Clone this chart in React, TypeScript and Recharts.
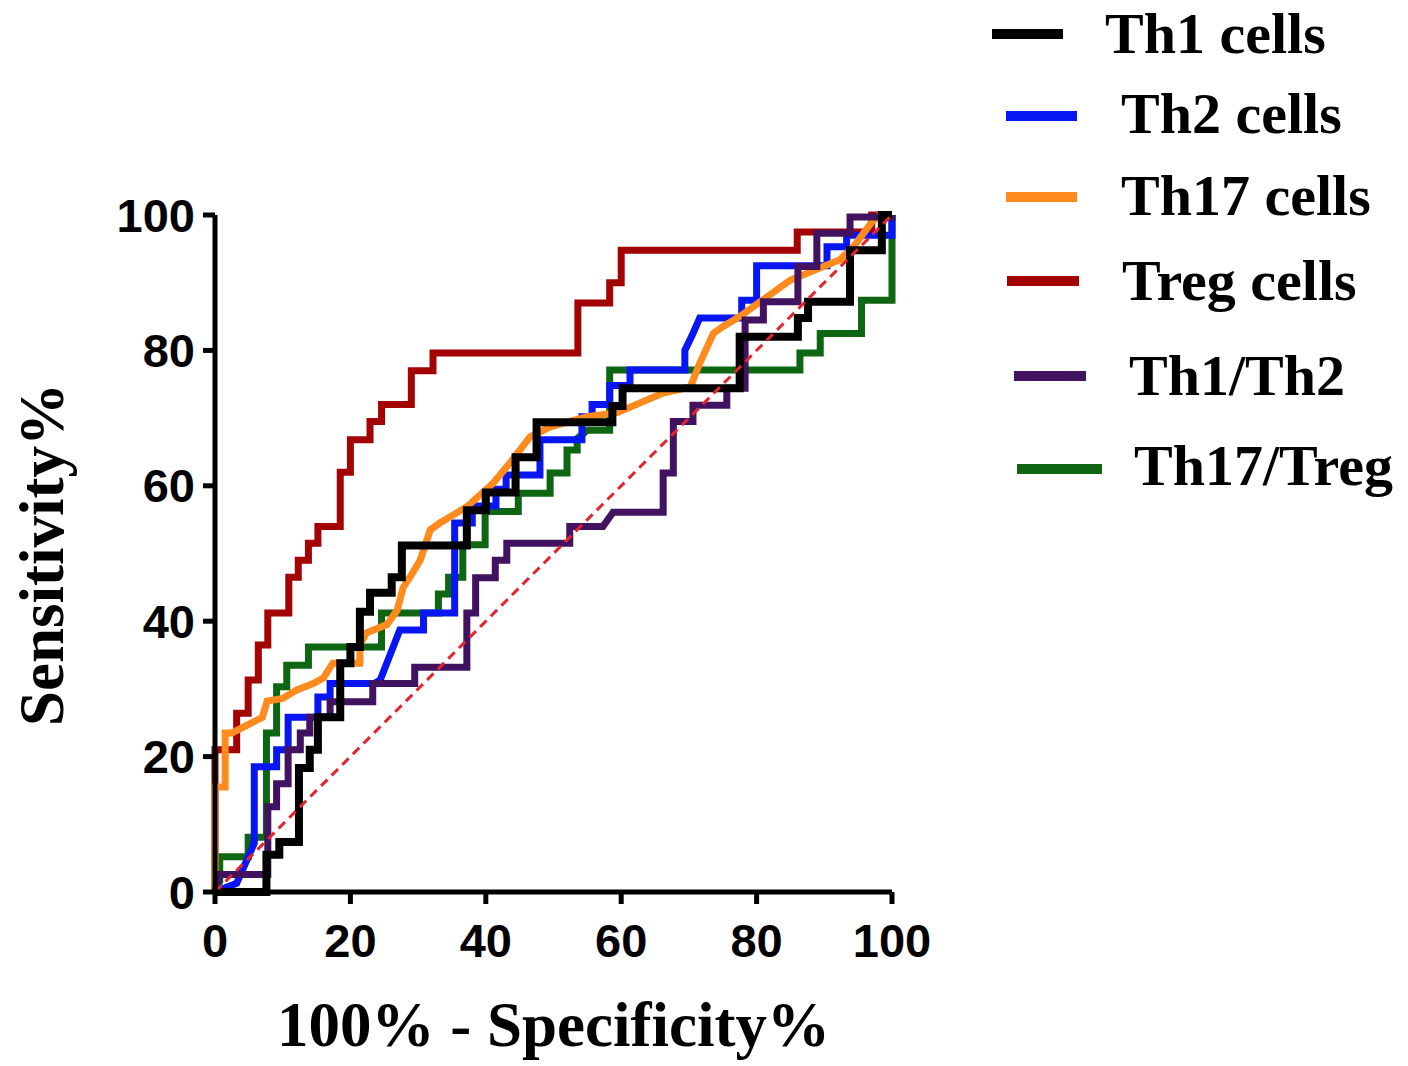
import { LineChart, Line, XAxis, YAxis, Label } from "recharts";

// ROC curves as [100% - specificity, sensitivity] corner points
const axisTicks = [0, 20, 40, 60, 80, 100];

const th1Cells: [number, number][] = [
  [0, 0], [7.6, 0], [7.6, 5.5], [9.5, 5.5], [9.5, 7.4], [12.4, 7.4], [12.4, 18.3],
  [14, 18.3], [14, 21], [15.2, 21], [15.2, 25.8], [18.5, 25.8], [18.5, 33.8],
  [20, 33.8], [20, 36.2], [21.4, 36.2], [21.4, 41.4], [22.9, 41.4], [22.9, 44.2],
  [26.1, 44.2], [26.1, 46.5], [27.6, 46.5], [27.6, 51.2], [37.2, 51.2], [37.2, 56.4],
  [40, 56.4], [40, 59], [44.4, 59], [44.4, 64.2], [47.5, 64.2], [47.5, 69.4],
  [58.7, 69.4], [58.7, 71.8], [60.2, 71.8], [60.2, 74.4], [77.5, 74.4], [77.5, 82],
  [86.1, 82], [86.1, 84.8], [87.6, 84.8], [87.6, 87.2], [93.8, 87.2], [93.8, 94.8],
  [98.5, 94.8], [98.5, 100], [100, 100],
];

const th2Cells: [number, number][] = [
  [0, 0], [3.2, 1.3], [5.8, 7.2], [5.8, 18.5], [9.1, 18.5], [9.1, 21], [10.8, 21],
  [10.8, 25.8], [15.2, 25.8], [15.2, 28.8], [17, 28.8], [17, 30.8], [23.5, 30.8],
  [24.4, 31.3], [27.3, 38.7], [30.8, 38.7], [30.8, 41.2], [35.4, 41.2], [35.4, 54.5],
  [38, 54.5], [38, 57], [41.5, 57], [41.5, 59.5], [43, 59.5], [43, 61.6], [48, 61.6],
  [48, 66.8], [54.2, 66.8], [54.2, 70.2], [55.7, 70.2], [55.7, 72], [58.3, 72],
  [58.3, 74.8], [61.3, 74.8], [61.3, 77.1], [69.4, 77.1], [69.4, 80], [70.6, 82.5],
  [71.6, 84.8], [77.8, 84.8], [77.8, 87.4], [80, 87.4], [80, 92.5], [90.4, 92.5],
  [90.4, 95.3], [93.3, 95.3], [93.3, 97], [100, 97], [100, 100],
];

const th17Cells: [number, number][] = [
  [0, 0], [0, 15.5], [1.5, 15.5], [1.5, 23.5], [2.5, 23.5], [7, 25.8], [7.7, 28.2],
  [10, 28.6], [12, 29.8], [14.5, 30.8], [16, 31.6], [17.4, 33.8], [21.4, 33.8],
  [21.4, 36.5], [22.4, 38.3], [25.4, 39.5], [26.9, 41.6], [27.8, 45], [28.8, 46.5],
  [30.3, 49], [31.8, 53.5], [33.2, 54.5], [37.2, 56.9], [41.1, 60.4], [43.6, 63.4],
  [46.5, 67.2], [49.5, 68.7], [55, 70.2], [59.4, 70.8], [66.2, 73.7], [70.2, 74.6],
  [71.6, 78.1], [73.6, 82.5], [75, 83.5], [77.5, 85], [85, 90.4], [92.3, 93.4],
  [94.3, 95.3], [97.2, 99.2], [98.2, 100], [100, 100],
];

const tregCells: [number, number][] = [
  [0, 0], [0, 21], [3.2, 21], [3.2, 26.4], [4.9, 26.4], [4.9, 31.3], [6.4, 31.3],
  [6.4, 36.5], [7.8, 36.5], [7.8, 41.2], [10.9, 41.2], [10.9, 46.5], [12.3, 46.5],
  [12.3, 49], [13.8, 49], [13.8, 51.5], [15.2, 51.5], [15.2, 54], [18.5, 54],
  [18.5, 62], [20, 62], [20, 66.8], [22.9, 66.8], [22.9, 69.5], [24.6, 69.5],
  [24.6, 72], [29, 72], [29, 77], [32.2, 77], [32.2, 79.6], [53.6, 79.6], [53.6, 87],
  [58.3, 87], [58.3, 90], [60, 90], [60, 94.8], [86, 94.8], [86, 97.5], [97, 97.5],
  [97, 100], [100, 100],
];

const th1Th2: [number, number][] = [
  [0, 0], [0.7, 2.6], [7.8, 2.6], [7.8, 12.6], [9.1, 12.6], [9.1, 16], [10.8, 16],
  [10.8, 21], [12.6, 21], [12.6, 23.5], [14, 23.5], [14, 25.8], [17, 25.8], [17, 28.1],
  [23.3, 28.1], [23.3, 30.8], [29.5, 30.8], [29.5, 33.2], [37.2, 33.2], [37.2, 41.2],
  [38.5, 41.2], [38.5, 46.4], [41.4, 46.4], [41.4, 49], [43.1, 49], [43.1, 51.5],
  [52.4, 51.5], [52.4, 54], [57.3, 54], [58.8, 56.1], [66.2, 56.1], [66.2, 61.9],
  [67.7, 61.9], [67.7, 69.5], [70.6, 69.5], [70.6, 71.9], [75.6, 71.9], [75.6, 74.4],
  [78.3, 74.4], [78.3, 84.5], [81, 84.5], [81, 87.2], [86.1, 87.2], [86.1, 92.4],
  [88.9, 92.4], [88.9, 97.3], [93.8, 97.3], [93.8, 99.7], [100, 99.7], [100, 100],
];

const th17Treg: [number, number][] = [
  [0, 0], [0.7, 1.5], [0.7, 5.2], [4.9, 5.2], [4.9, 8.1], [7.6, 8.1], [7.6, 23.5],
  [9.1, 23.5], [9.1, 30.3], [10.6, 30.3], [10.6, 33.5], [13.8, 33.5], [13.8, 36.2],
  [24.6, 36.2], [24.6, 41.2], [33, 41.2], [33, 44], [34.5, 44], [34.5, 46.5],
  [36.6, 46.5], [36.6, 51.3], [39.9, 51.3], [39.9, 56.2], [44.8, 56.2], [44.8, 58.9],
  [49.5, 58.9], [49.5, 61.9], [52, 61.9], [52, 65.3], [53.5, 65.3], [53.5, 67],
  [55, 68.2], [58.3, 68.2], [58.3, 77.1], [86.4, 77.1], [86.4, 79.6], [89.4, 79.6],
  [89.4, 82.5], [95.5, 82.5], [95.5, 87.4], [100, 87.4], [100, 100],
];

const chanceLine: [number, number][] = [
  [0, 0], [100, 100],
];

const series = [
  { name: "Th1 cells", points: th1Cells, color: "#000000", width: 8 },
  { name: "Th2 cells", points: th2Cells, color: "#0716F2", width: 7 },
  { name: "Th17 cells", points: th17Cells, color: "#FF8A1E", width: 7 },
  { name: "Treg cells", points: tregCells, color: "#A30303", width: 7 },
  { name: "Th1/Th2", points: th1Th2, color: "#40125F", width: 7 },
  { name: "Th17/Treg", points: th17Treg, color: "#0E6612", width: 7 },
];

// bottom to top, as they overlap in the figure
const drawOrder = ["Treg cells", "Th17/Treg", "Th2 cells", "Th17 cells", "Th1/Th2", "Th1 cells"];

// legend rows sit a little irregularly in the figure
const legendRows = [
  { x1: 992, x2: 1063, lineY: 34, textX: 1105, textY: 53 },
  { x1: 1006, x2: 1077, lineY: 116, textX: 1121, textY: 133 },
  { x1: 1006, x2: 1077, lineY: 197, textX: 1121, textY: 215 },
  { x1: 1007, x2: 1079, lineY: 281, textX: 1122, textY: 300 },
  { x1: 1014, x2: 1086, lineY: 376, textX: 1129, textY: 395 },
  { x1: 1017, x2: 1102, lineY: 469, textX: 1134, textY: 485 },
];

const serif = "'Liberation Serif', 'Times New Roman', serif";
const sans = "'Liberation Sans', Arial, sans-serif";

const toRows = (points: [number, number][]) => points.map(([x, y]) => ({ x, y }));

const tickStyle = { fill: "#000", fontSize: 47, fontWeight: 700, fontFamily: sans };
const axisStroke = { stroke: "#000", strokeWidth: 5 };

const XTitle = (props: any) => {
  const vb = props.viewBox || { x: 215, y: 892, width: 677 };
  return (
    <text
      x={vb.x + vb.width / 2}
      y={vb.y + 154}
      textAnchor="middle"
      fontFamily={serif}
      fontWeight={700}
      fontSize={63}
      fill="#000"
    >
      100% - Specificity%
    </text>
  );
};

const YTitle = (props: any) => {
  const vb = props.viewBox || { x: 115, y: 215, height: 677 };
  const cx = vb.x - 52;
  const cy = vb.y + vb.height / 2 + 1;
  return (
    <text
      x={cx}
      y={cy}
      transform={`rotate(-90, ${cx}, ${cy})`}
      textAnchor="middle"
      fontFamily={serif}
      fontWeight={700}
      fontSize={63}
      fill="#000"
    >
      Sensitivity%
    </text>
  );
};

export default function App() {
  const ordered = drawOrder.map((n) => series.find((s) => s.name === n)!);
  return (
    <div style={{ position: "relative", width: 1408, height: 1066, background: "#fff" }}>
      <style>{"body { margin: 0; }"}</style>
      <LineChart
        width={1408}
        height={1066}
        margin={{ top: 215, right: 516, bottom: 114, left: 115 }}
      >
        <XAxis
          dataKey="x"
          type="number"
          domain={[0, 100]}
          ticks={axisTicks}
          height={60}
          tickSize={12}
          tickMargin={20}
          tick={tickStyle}
          axisLine={axisStroke}
          tickLine={axisStroke}
        >
          <Label content={<XTitle />} />
        </XAxis>
        <YAxis
          dataKey="y"
          type="number"
          domain={[0, 100]}
          ticks={axisTicks}
          width={100}
          tickSize={12}
          tickMargin={8}
          tick={tickStyle}
          axisLine={axisStroke}
          tickLine={axisStroke}
        >
          <Label content={<YTitle />} />
        </YAxis>
        {ordered.map((s) => (
          <Line
            key={s.name}
            name={s.name}
            data={toRows(s.points)}
            dataKey="y"
            type="linear"
            stroke={s.color}
            strokeWidth={s.width}
            strokeLinejoin="miter"
            dot={false}
            activeDot={false}
            isAnimationActive={false}
          />
        ))}
        <Line
          name="chance"
          data={toRows(chanceLine)}
          dataKey="y"
          type="linear"
          stroke="#E5232E"
          strokeWidth={3}
          strokeDasharray="9 6"
          dot={false}
          activeDot={false}
          isAnimationActive={false}
        />
      </LineChart>
      <svg
        width={1408}
        height={520}
        style={{ position: "absolute", left: 0, top: 0, pointerEvents: "none" }}
      >
        {series.map((s, i) => {
          const r = legendRows[i];
          return (
            <g key={s.name}>
              <line x1={r.x1} x2={r.x2} y1={r.lineY} y2={r.lineY} stroke={s.color} strokeWidth={10} />
              <text x={r.textX} y={r.textY} fontFamily={serif} fontWeight={700} fontSize={58} fill="#000">
                {s.name}
              </text>
            </g>
          );
        })}
      </svg>
    </div>
  );
}
